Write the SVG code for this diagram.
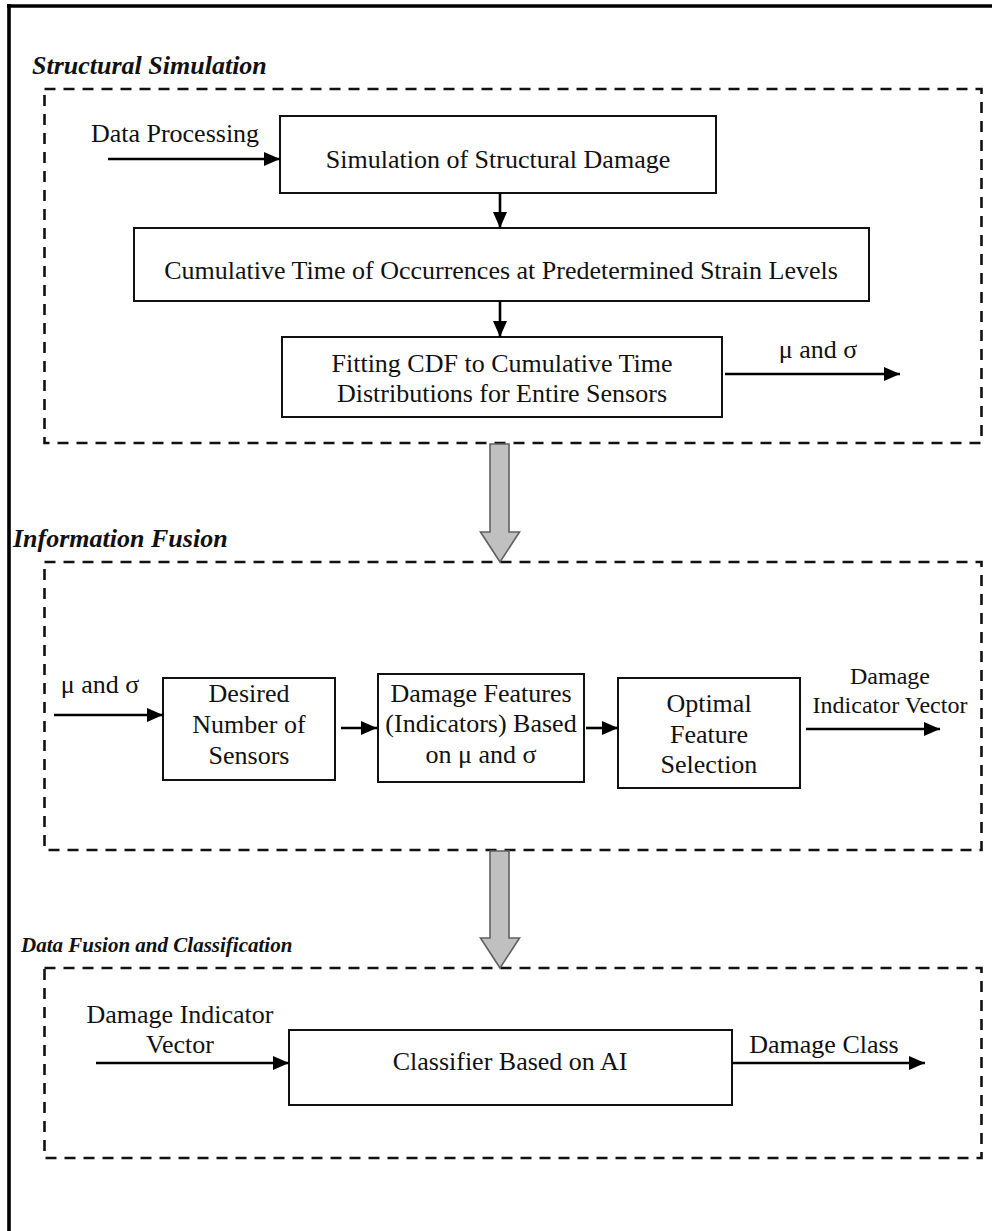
<svg xmlns="http://www.w3.org/2000/svg" width="992" height="1231" viewBox="0 0 992 1231">
  <style>
    text { font-family: "Liberation Serif", "Times New Roman", serif; fill: #111; }
    .lbl { font-size: 26px; }
    .sm { font-size: 24px; }
    .title { font-size: 26px; font-weight: bold; font-style: italic; }
    .box { fill: #fff; stroke: #111; stroke-width: 2; }
    .group { fill: none; stroke: #111; stroke-width: 2.6; stroke-dasharray: 11 8; }
    .flow { fill: none; stroke: #000; stroke-width: 2.6; }
    .big { fill: #c0c0c0; stroke: #606060; stroke-width: 1.6; }
  </style>
  <defs>
    <marker id="head" markerUnits="userSpaceOnUse" markerWidth="16" markerHeight="14" refX="16" refY="7" orient="auto">
      <path d="M0,0 L16,7 L0,14 z" fill="#000"/>
    </marker>
  </defs>

  <rect width="992" height="1231" fill="#fff"/>

  <!-- outer frame: top and left rules only -->
  <path d="M7,6 H992 M9,4 V1231" fill="none" stroke="#000" stroke-width="3.6"/>

  <!-- stage headings -->
  <text class="title" x="32" y="74">Structural Simulation</text>
  <text class="title" x="13" y="547">Information Fusion</text>
  <text class="title" x="21" y="952" style="font-size:21px">Data Fusion and Classification</text>

  <!-- dashed stage groups -->
  <g id="stage-structural"><rect class="group" x="44.5" y="89" width="937" height="354"/></g>
  <g id="stage-fusion"><rect class="group" x="44.5" y="562" width="937" height="288"/></g>
  <g id="stage-classification"><rect class="group" x="44.5" y="968" width="937" height="190"/></g>

  <!-- process blocks -->
  <g id="sim-damage">
    <rect class="box" x="280" y="116" width="436" height="77"/>
    <text class="lbl" x="498" y="168" text-anchor="middle">Simulation of Structural Damage</text>
  </g>
  <g id="cumulative-time">
    <rect class="box" x="134" y="228" width="735" height="73"/>
    <text class="lbl" x="501" y="279" text-anchor="middle">Cumulative Time of Occurrences at Predetermined Strain Levels</text>
  </g>
  <g id="fit-cdf">
    <rect class="box" x="282" y="337" width="440" height="80"/>
    <text class="lbl" x="502" y="372" text-anchor="middle">Fitting CDF to Cumulative Time</text>
    <text class="lbl" x="502" y="402" text-anchor="middle">Distributions for Entire Sensors</text>
  </g>
  <g id="desired-sensors">
    <rect class="box" x="163" y="678" width="172" height="102"/>
    <text class="lbl" x="249" y="702" text-anchor="middle">Desired</text>
    <text class="lbl" x="249" y="733" text-anchor="middle">Number of</text>
    <text class="lbl" x="249" y="764" text-anchor="middle">Sensors</text>
  </g>
  <g id="damage-features">
    <rect class="box" x="378" y="674" width="206" height="108"/>
    <text class="lbl" x="481" y="702" text-anchor="middle">Damage Features</text>
    <text class="lbl" x="481" y="732" text-anchor="middle">(Indicators) Based</text>
    <text class="lbl" x="481" y="763" text-anchor="middle">on μ and σ</text>
  </g>
  <g id="feature-selection">
    <rect class="box" x="618" y="678" width="182" height="110"/>
    <text class="lbl" x="709" y="712" text-anchor="middle">Optimal</text>
    <text class="lbl" x="709" y="743" text-anchor="middle">Feature</text>
    <text class="lbl" x="709" y="773" text-anchor="middle">Selection</text>
  </g>
  <g id="classifier">
    <rect class="box" x="289" y="1030" width="443" height="75"/>
    <text class="lbl" x="510" y="1070" text-anchor="middle">Classifier Based on AI</text>
  </g>

  <!-- connectors -->
  <g id="connectors">
    <path class="flow" d="M108,159 H280" marker-end="url(#head)"/>
    <path class="flow" d="M500,193 V228" marker-end="url(#head)"/>
    <path class="flow" d="M500,301 V337" marker-end="url(#head)"/>
    <path class="flow" d="M725,374 H900" marker-end="url(#head)"/>
    <path class="flow" d="M54,715 H163" marker-end="url(#head)"/>
    <path class="flow" d="M341,728 H377" marker-end="url(#head)"/>
    <path class="flow" d="M586,728 H618" marker-end="url(#head)"/>
    <path class="flow" d="M806,729 H940" marker-end="url(#head)"/>
    <path class="flow" d="M96,1063 H289" marker-end="url(#head)"/>
    <path class="flow" d="M732,1063 H925" marker-end="url(#head)"/>

    <!-- block arrows between stages -->
    <path class="big" d="M490,444 H509 V532 H519.5 L500,562 L480.5,532 H490 Z"/>
    <path class="big" d="M490,851 H509 V938 H519.5 L500,968 L480.5,938 H490 Z"/>
  </g>

  <!-- connector labels -->
  <text class="lbl" x="175" y="142" text-anchor="middle">Data Processing</text>
  <text class="lbl" x="818" y="358" text-anchor="middle">μ and σ</text>
  <text class="lbl" x="100" y="693" text-anchor="middle">μ and σ</text>
  <text class="sm" x="890" y="684" text-anchor="middle">Damage</text>
  <text class="sm" x="890" y="713" text-anchor="middle">Indicator Vector</text>
  <text class="lbl" x="180" y="1023" text-anchor="middle">Damage Indicator</text>
  <text class="lbl" x="180" y="1053" text-anchor="middle">Vector</text>
  <text class="lbl" x="824" y="1053" text-anchor="middle">Damage Class</text>
</svg>
